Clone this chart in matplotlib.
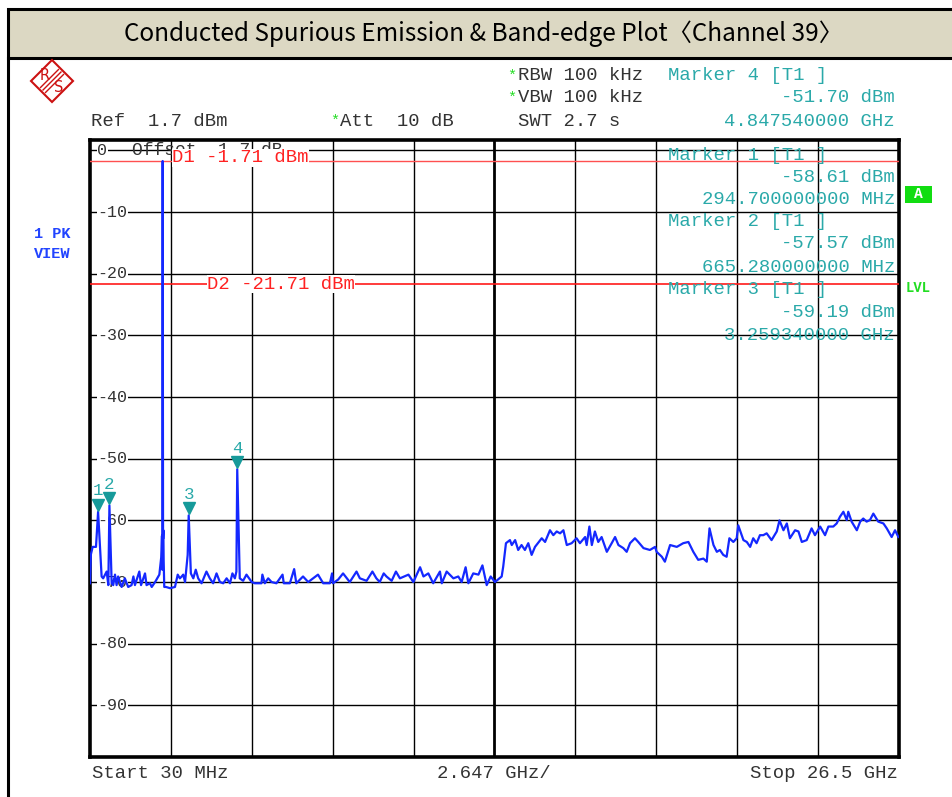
import matplotlib
matplotlib.use("Agg")
import matplotlib.pyplot as plt
from matplotlib.patches import Polygon, Rectangle
from matplotlib.lines import Line2D
import matplotlib.transforms as mtransforms

# ---------------- data ----------------
title = "Conducted Spurious Emission & Band-edge Plot〈Channel 39〉"
start_ghz = 0.03
stop_ghz = 26.5
ref_top_dbm = 1.7
bottom_dbm = -98.3
y_tick_values = [0, -10, -20, -30, -40, -50, -60, -70, -80, -90]
display_lines = [-1.71, -21.71]
display_labels = ["D1 -1.71 dBm", "D2 -21.71 dBm"]

marker_names = ["1", "2", "3", "4"]
marker_freqs_ghz = [0.2947, 0.66528, 3.25934, 4.84754]
marker_levels_dbm = [-58.61, -57.57, -59.19, -51.70]
marker_info = [
    ("Marker 1 [T1 ]", "-58.61 dBm", "294.700000000 MHz"),
    ("Marker 2 [T1 ]", "-57.57 dBm", "665.280000000 MHz"),
    ("Marker 3 [T1 ]", "-59.19 dBm", "3.259340000 GHz"),
]
marker4_info = ("Marker 4 [T1 ]", "-51.70 dBm", "4.847540000 GHz")

trace_freq_ghz = [
    0.03, 0.06, 0.117, 0.226, 0.2947, 0.41, 0.46, 0.575, 0.63, 0.66528,
    0.739, 0.79, 0.848, 0.90, 0.95, 1.066, 1.17, 1.28, 1.39, 1.45,
    1.50, 1.644, 1.70, 1.83, 1.88, 1.99, 2.05, 2.16, 2.299, 2.36,
    2.385, 2.395, 2.408, 2.42, 2.43, 2.44, 2.46, 2.517, 2.65, 2.81,
    2.90, 2.97, 3.03, 3.08, 3.14, 3.226, 3.25934, 3.33, 3.41, 3.49,
    3.57, 3.68, 3.84, 3.95, 4.06, 4.17, 4.28, 4.39, 4.50, 4.61,
    4.69, 4.77, 4.82, 4.84754, 4.93, 5.04, 5.15, 5.32, 5.42, 5.64,
    5.67, 5.75, 5.86, 5.97, 6.13, 6.33, 6.37, 6.57, 6.71, 6.78,
    7.00, 7.17, 7.33, 7.49, 7.66, 7.88, 7.95, 7.98, 8.15, 8.31,
    8.53, 8.75, 8.86, 9.08, 9.27, 9.40, 9.51, 9.64, 9.73, 9.90,
    10.04, 10.17, 10.45, 10.61, 10.83, 10.94, 11.10, 11.26, 11.48, 11.54,
    11.70, 11.92, 12.08, 12.19, 12.32, 12.41, 12.57, 12.74, 12.87, 13.01,
    13.14, 13.28, 13.43, 13.50, 13.55, 13.64, 13.77, 13.83, 13.94, 14.04,
    14.15, 14.26, 14.37, 14.48, 14.59, 14.81, 14.92, 15.08, 15.19, 15.30,
    15.41, 15.52, 15.63, 15.79, 15.95, 16.06, 16.23, 16.28, 16.37, 16.45,
    16.55, 16.66, 16.77, 16.94, 17.10, 17.21, 17.32, 17.48, 17.59, 17.70,
    17.86, 17.97, 18.14, 18.35, 18.52, 18.57, 18.74, 18.84, 19.01, 19.23,
    19.44, 19.61, 19.77, 19.93, 20.10, 20.21, 20.30, 20.43, 20.54, 20.64,
    20.75, 20.86, 20.95, 21.08, 21.19, 21.24, 21.41, 21.52, 21.63, 21.73,
    21.84, 21.95, 22.06, 22.17, 22.33, 22.50, 22.59, 22.72, 22.83, 22.93,
    23.10, 23.21, 23.32, 23.48, 23.64, 23.75, 23.92, 24.08, 24.19, 24.35,
    24.46, 24.57, 24.68, 24.79, 24.84, 24.95, 25.12, 25.23, 25.33, 25.44,
    25.55, 25.66, 25.82, 25.99, 26.10, 26.26, 26.37, 26.48,
]
trace_dbm = [
    -70.2, -65.5, -64.3, -64.3, -58.61, -69.1, -69.4, -68.3, -70.5, -57.57,
    -70.2, -70.5, -68.8, -70.5, -69.1, -70.8, -69.4, -70.8, -70.5, -69.1,
    -70.5, -68.3, -70.5, -68.6, -70.5, -70.2, -70.8, -70.0, -68.8, -66.0,
    -62.5, -68.0, -1.71, -63.0, -61.6, -66.5, -70.8, -70.8, -71.0, -70.8,
    -68.8, -69.4, -69.1, -68.8, -70.0, -65.6, -59.19, -68.6, -69.4, -68.0,
    -69.4, -70.2, -68.3, -69.4, -70.2, -68.6, -70.0, -70.2, -69.4, -70.2,
    -68.6, -69.4, -68.3, -51.70, -69.4, -69.8, -68.8, -70.0, -70.2, -70.2,
    -68.8, -70.2, -69.4, -70.0, -70.2, -68.8, -70.2, -70.2, -67.9, -70.2,
    -69.1, -70.0, -69.4, -68.8, -70.2, -70.2, -68.6, -70.2, -69.6, -68.6,
    -70.0, -68.3, -69.4, -69.8, -68.3, -69.4, -70.0, -68.6, -69.1, -69.8,
    -68.3, -69.4, -68.8, -70.0, -67.6, -69.1, -68.6, -70.2, -68.3, -70.2,
    -68.3, -69.4, -69.1, -70.0, -67.6, -70.2, -68.6, -68.8, -67.3, -70.5,
    -69.1, -70.0, -69.4, -69.1, -67.5, -63.7, -63.2, -64.0, -63.2, -64.8,
    -64.0, -64.8, -63.7, -65.6, -64.3, -62.9, -63.5, -61.6, -62.4, -61.8,
    -62.1, -61.6, -64.0, -63.7, -62.9, -63.7, -62.7, -64.0, -61.0, -64.0,
    -61.8, -63.5, -62.7, -65.1, -63.7, -62.7, -64.0, -64.5, -65.1, -63.7,
    -62.9, -63.5, -64.5, -64.8, -64.3, -65.1, -65.9, -66.7, -64.0, -64.3,
    -63.7, -63.5, -65.1, -66.4, -66.2, -66.7, -61.3, -64.0, -65.1, -64.8,
    -65.6, -65.9, -62.9, -63.5, -62.9, -60.8, -63.2, -63.5, -64.3, -62.9,
    -63.7, -62.4, -62.4, -62.1, -63.2, -61.8, -60.0, -61.6, -60.5, -62.9,
    -61.6, -61.8, -63.5, -63.2, -61.3, -62.4, -61.0, -62.4, -61.0, -61.0,
    -60.5, -59.4, -58.6, -59.95, -58.6, -60.2, -61.6, -60.2, -59.7, -60.2,
    -59.95, -58.9, -60.2, -60.5, -61.3, -62.7, -61.6, -62.7,
]

# ---------------- figure ----------------
W, H = 952, 797
fig = plt.figure(figsize=(W / 100, H / 100), dpi=100)
fig.patch.set_facecolor("white")

def fx(x):
    return x / W

def fy(y):
    return 1 - y / H

MONO = ["Liberation Mono", "DejaVu Sans Mono"]
TEAL = "#2aa9a9"
GRAY = "#333333"
GREEN = "#22dd22"
FS = 13.6

def T(x, y, s, **kw):
    kw.setdefault("family", MONO)
    kw.setdefault("fontsize", FS)
    kw.setdefault("va", "center")
    return fig.text(fx(x), fy(y), s, **kw)

# outer frame & title band
fig.add_artist(Rectangle((fx(8), fy(58)), fx(960 - 8), fy(9) - fy(58),
                         transform=fig.transFigure, facecolor="#dcd8c3",
                         edgecolor="black", linewidth=2.2, zorder=1))
fig.add_artist(Line2D([fx(8), fx(8)], [fy(58), fy(800)], transform=fig.transFigure,
                      color="black", linewidth=2.2, zorder=1))
fig.text(fx(484), fy(34), title, ha="center", va="center", fontsize=17.5,
         family=["Noto Sans CJK KR", "DejaVu Sans"], color="black", zorder=2)

# R&S logo
cx, cy, r = 52, 81, 21
fig.add_artist(Polygon([(fx(cx), fy(cy - r)), (fx(cx + r), fy(cy)), (fx(cx), fy(cy + r)),
                        (fx(cx - r), fy(cy))], closed=True, transform=fig.transFigure,
                       facecolor="none", edgecolor="#cc1111", linewidth=1.5))
for d in (-2.5, 0, 2.5):
    fig.add_artist(Line2D([fx(cx + 9 + d), fx(cx - 9 + d)], [fy(cy - 9 + d), fy(cy + 9 + d)],
                          transform=fig.transFigure, color="#cc1111", linewidth=1.0))
fig.text(fx(cx - 7), fy(cy - 6), "R", ha="center", va="center", color="#cc1111",
         fontsize=10.5, family="DejaVu Sans")
fig.text(fx(cx + 7), fy(cy + 7), "S", ha="center", va="center", color="#cc1111",
         fontsize=10.5, family="DejaVu Sans")

# header texts
T(91, 121, "Ref  1.7 dBm", color=GRAY)
T(330, 121, "*", color=GREEN, fontsize=11)
T(340, 121, "Att  10 dB", color=GRAY)
T(507, 76, "*", color=GREEN, fontsize=11)
T(518, 76, "RBW 100 kHz", color=GRAY)
T(507, 98, "*", color=GREEN, fontsize=11)
T(518, 98, "VBW 100 kHz", color=GRAY)
T(518, 121, "SWT 2.7 s", color=GRAY)
T(668, 76, marker4_info[0], color=TEAL)
T(895, 98, marker4_info[1], color=TEAL, ha="right")
T(895, 121, marker4_info[2], color=TEAL, ha="right")

# side labels
T(34, 234, "1 PK", color="#2244ff", fontsize=11, weight="bold")
T(34, 254, "VIEW", color="#2244ff", fontsize=11, weight="bold")
fig.add_artist(Rectangle((fx(905), fy(203)), fx(27), fy(186) - fy(203),
                         transform=fig.transFigure, facecolor="#11dd11", edgecolor="none"))
T(918.5, 194.5, "A", color="white", fontsize=10.5, weight="bold", ha="center")
T(906, 288, "LVL", color=GREEN, fontsize=10, weight="bold")

# bottom texts
T(92, 773, "Start 30 MHz", color=GRAY)
T(494, 773, "2.647 GHz/", color=GRAY, ha="center")
T(898, 773, "Stop 26.5 GHz", color=GRAY, ha="right")

# ---------------- main axes ----------------
ax = fig.add_axes([fx(90), fy(756.5), fx(899 - 90), fy(140) - fy(756.5)])
ax.set_xlim(start_ghz, stop_ghz)
ax.set_ylim(bottom_dbm, ref_top_dbm)
ax.set_xticks([])
ax.set_yticks([])
for s in ax.spines.values():
    s.set_linewidth(2.6)
    s.set_color("black")

div = (stop_ghz - start_ghz) / 10
for k in range(1, 10):
    ax.axvline(start_ghz + k * div, color="black", linewidth=2.0 if k == 5 else 1.0, zorder=1)
for v in y_tick_values:
    ax.axhline(v, color="black", linewidth=1.0, zorder=1)
    ax.text(0.009, v, "%d" % v, transform=ax.get_yaxis_transform(), ha="left", va="center",
            fontsize=12, family=MONO, color=GRAY, zorder=2,
            bbox=dict(facecolor="white", edgecolor="none", pad=0.5))

ax.text(1.39, 0.0, "Offset  1.7 dB", ha="left", va="center", fontsize=13, family=MONO,
        color=GRAY, zorder=2)

ax.axhline(display_lines[0], color="#ff5050", linewidth=1.0, zorder=3)
ax.axhline(display_lines[1], color="#ff1a1a", linewidth=1.2, zorder=3)
ax.text(2.72, display_lines[0] + 0.5, display_labels[0], ha="left", va="center", fontsize=FS,
        family=MONO, color="#ff2222", zorder=4,
        bbox=dict(facecolor="white", edgecolor="none", pad=0.3))
ax.text(3.86, display_lines[1], display_labels[1], ha="left", va="center", fontsize=FS,
        family=MONO, color="#ff2222", zorder=4,
        bbox=dict(facecolor="white", edgecolor="none", pad=0.3))

ax.plot(trace_freq_ghz, trace_dbm, color="#1428ff", linewidth=1.6, zorder=5)

tri_off = mtransforms.offset_copy(ax.transData, fig=fig, x=0, y=5, units="points")
for name, f, v in zip(marker_names, marker_freqs_ghz, marker_levels_dbm):
    ax.plot([f], [v], marker="v", markersize=9, color="#169a9a", linestyle="none",
            transform=tri_off, zorder=6)
    ax.annotate(name, (f, v), xytext=(0, 15), textcoords="offset points", ha="center",
                va="center", fontsize=12.5, family=MONO, color=TEAL, zorder=6)

# marker info inside plot
rows = [155, 177, 199, 222, 244, 267, 290, 312, 335]
for i, (a, b, c) in enumerate(marker_info):
    T(668, rows[3 * i], a, color=TEAL)
    T(895, rows[3 * i + 1], b, color=TEAL, ha="right")
    T(895, rows[3 * i + 2], c, color=TEAL, ha="right")

fig.savefig("out.png", dpi=100)
